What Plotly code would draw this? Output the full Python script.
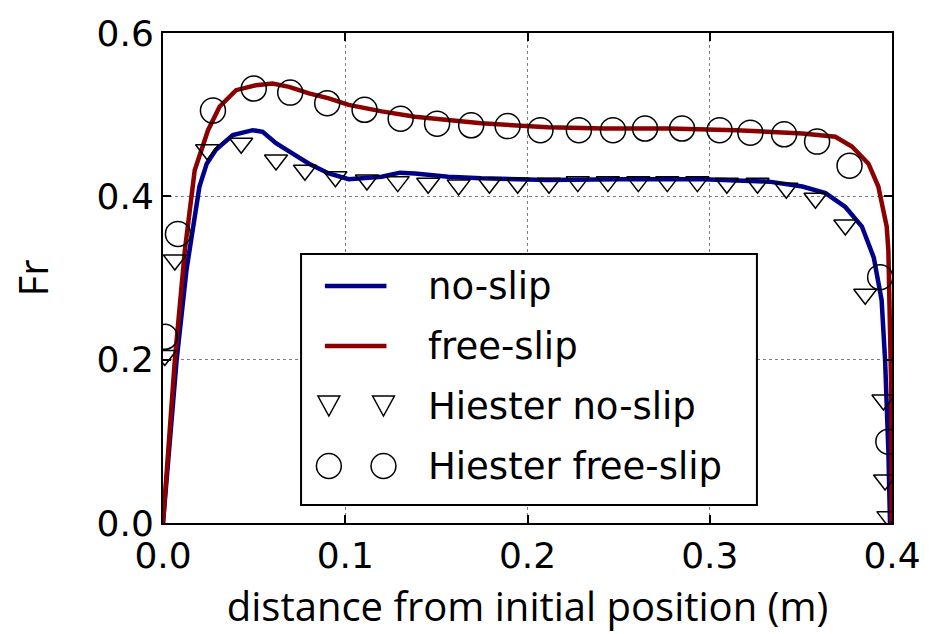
import plotly.graph_objects as go

# ---- data ----
noslip_x = [0.0, 0.0075, 0.0129, 0.0147, 0.020, 0.024, 0.029, 0.0383, 0.0492, 0.0547, 0.062,
            0.0692, 0.0801, 0.091, 0.1019, 0.12, 0.13, 0.1383, 0.1564, 0.1746, 0.211, 0.25,
            0.2963, 0.3326, 0.3508, 0.3635, 0.3744, 0.3835, 0.3900, 0.3943, 0.3962, 0.398, 0.3989]
noslip_y = [0.0, 0.2, 0.31, 0.334, 0.412, 0.44, 0.457, 0.475, 0.481, 0.479, 0.465,
            0.455, 0.44, 0.428, 0.421, 0.424, 0.429, 0.428, 0.424, 0.422, 0.42, 0.421,
            0.421, 0.418, 0.412, 0.404, 0.387, 0.363, 0.325, 0.273, 0.2, 0.089, 0.0]

freeslip_x = [0.0, 0.0065, 0.012, 0.0174, 0.0247, 0.0311, 0.0401, 0.051, 0.0601, 0.0692,
              0.0801, 0.091, 0.1019, 0.12, 0.1383, 0.1564, 0.1746, 0.211, 0.2418, 0.278,
              0.3144, 0.3508, 0.3689, 0.378, 0.3871, 0.3925, 0.3971, 0.398, 0.3995, 0.3998]
freeslip_y = [0.0, 0.2, 0.334, 0.432, 0.481, 0.51, 0.53, 0.536, 0.538, 0.534,
              0.526, 0.52, 0.512, 0.504, 0.4975, 0.4935, 0.4895, 0.4845, 0.483, 0.483,
              0.481, 0.477, 0.473, 0.461, 0.44, 0.412, 0.363, 0.334, 0.171, 0.0]

hiester_noslip_x = [0.001, 0.0065, 0.0242, 0.0429, 0.062, 0.0779, 0.0946, 0.1119, 0.1288,
                    0.1455, 0.1622, 0.1791, 0.1946, 0.2118, 0.2276, 0.2441, 0.2608, 0.2767,
                    0.2932, 0.3094, 0.3262, 0.342, 0.358, 0.3744, 0.3853, 0.3953, 0.3962, 0.398]
hiester_noslip_y = [0.205, 0.322, 0.457, 0.465, 0.4445, 0.432, 0.424, 0.42, 0.418,
                    0.416, 0.414, 0.416, 0.416, 0.416, 0.418, 0.418, 0.418, 0.418,
                    0.418, 0.416, 0.416, 0.41, 0.3976, 0.365, 0.28, 0.1506, 0.0527, 0.0078]

hiester_freeslip_x = [0.001, 0.0082, 0.0274, 0.0498, 0.0698, 0.0901, 0.1106, 0.1304, 0.1504,
                      0.1691, 0.1891, 0.2071, 0.2282, 0.2469, 0.2645, 0.2848, 0.3054, 0.3223,
                      0.3408, 0.3589, 0.3767, 0.3935, 0.398]
hiester_freeslip_y = [0.228, 0.354, 0.505, 0.532, 0.527, 0.514, 0.506, 0.495, 0.489,
                      0.487, 0.486, 0.481, 0.481, 0.481, 0.483, 0.483, 0.481, 0.478,
                      0.476, 0.467, 0.4375, 0.301, 0.0996]

x_ticks = [0.0, 0.1, 0.2, 0.3, 0.4]
y_ticks = [0.0, 0.2, 0.4, 0.6]
legend_labels = ["no-slip", "free-slip", "Hiester no-slip", "Hiester free-slip"]

BLUE = "#00008B"
RED = "#8B0000"

fig = go.Figure()
fig.add_trace(go.Scatter(x=noslip_x, y=noslip_y, mode="lines", name=legend_labels[0],
                         line=dict(color=BLUE, width=4.5), showlegend=False))
fig.add_trace(go.Scatter(x=freeslip_x, y=freeslip_y, mode="lines", name=legend_labels[1],
                         line=dict(color=RED, width=4.5), showlegend=False))
fig.add_trace(go.Scatter(x=hiester_noslip_x, y=hiester_noslip_y, mode="markers", name=legend_labels[2],
                         marker=dict(symbol="triangle-down-open", size=20, color="black",
                                     line=dict(width=1.5, color="black")),
                         showlegend=False))
fig.add_trace(go.Scatter(x=hiester_freeslip_x, y=hiester_freeslip_y, mode="markers", name=legend_labels[3],
                         marker=dict(symbol="circle-open", size=25, color="black",
                                     line=dict(width=1.5, color="black")),
                         showlegend=False))

# ---- plot geometry (pixels) for the matplotlib-style legend box ----
W, H = 933, 634
L, R, T, B = 163, 36, 33, 111
pw, ph = W - L - R, H - T - B

def px(xp):
    return (xp - L) / pw

def py(yp):
    return (H - B - yp) / ph

shapes = []
annotations = []
# legend frame
shapes.append(dict(type="rect", xref="paper", yref="paper", x0=px(302), x1=px(761),
                   y0=py(505), y1=py(254), line=dict(color="black", width=2),
                   fillcolor="white", layer="above"))
rows = [286, 346, 406, 466]
for yy, col in zip(rows[:2], [BLUE, RED]):
    shapes.append(dict(type="line", xref="paper", yref="paper", x0=px(326), x1=px(388),
                       y0=py(yy), y1=py(yy), line=dict(color=col, width=4.5), layer="above"))
for cx in (330, 385):
    cy = rows[2]
    path = "M {:.5f},{:.5f} L {:.5f},{:.5f} L {:.5f},{:.5f} Z".format(
        px(cx - 11), py(cy - 10), px(cx + 11), py(cy - 10), px(cx), py(cy + 10))
    shapes.append(dict(type="path", xref="paper", yref="paper", path=path,
                       line=dict(color="black", width=1.5), layer="above"))
    cy = rows[3]
    shapes.append(dict(type="circle", xref="paper", yref="paper",
                       x0=px(cx - 12.5), x1=px(cx + 12.5), y0=py(cy + 12.5), y1=py(cy - 12.5),
                       line=dict(color="black", width=1.5), layer="above"))
for yy, lab in zip(rows, legend_labels):
    annotations.append(dict(xref="paper", yref="paper", x=px(428), y=py(yy), text=lab,
                            showarrow=False, xanchor="left", yanchor="middle",
                            font=dict(family="DejaVu Sans", size=37, color="black")))

axis_common = dict(showline=True, linecolor="black", linewidth=2, mirror="ticks",
                   ticks="inside", ticklen=8, tickwidth=1.5, tickcolor="black",
                   showgrid=True, gridcolor="#808080", gridwidth=1.2, griddash="dot",
                   zeroline=False, tickformat=".1f",
                   tickfont=dict(family="DejaVu Sans", size=36, color="black"))

fig.update_layout(
    width=W, height=H,
    margin=dict(l=L, r=R, t=T, b=B),
    plot_bgcolor="white", paper_bgcolor="white",
    showlegend=False,
    shapes=shapes, annotations=annotations,
    xaxis=dict(range=[0, 0.4], tickvals=x_ticks, **axis_common,
               title=dict(text="distance from initial position (m)",
                          font=dict(family="Open Sans", size=40, color="black"), standoff=18)),
    yaxis=dict(range=[0, 0.6], tickvals=y_ticks, **axis_common,
               title=dict(text="Fr", font=dict(family="Open Sans", size=40, color="black"),
                          standoff=36)),
)

fig.write_html("out.html", config={"displayModeBar": False},
               post_script="document.body.style.margin='0';")
